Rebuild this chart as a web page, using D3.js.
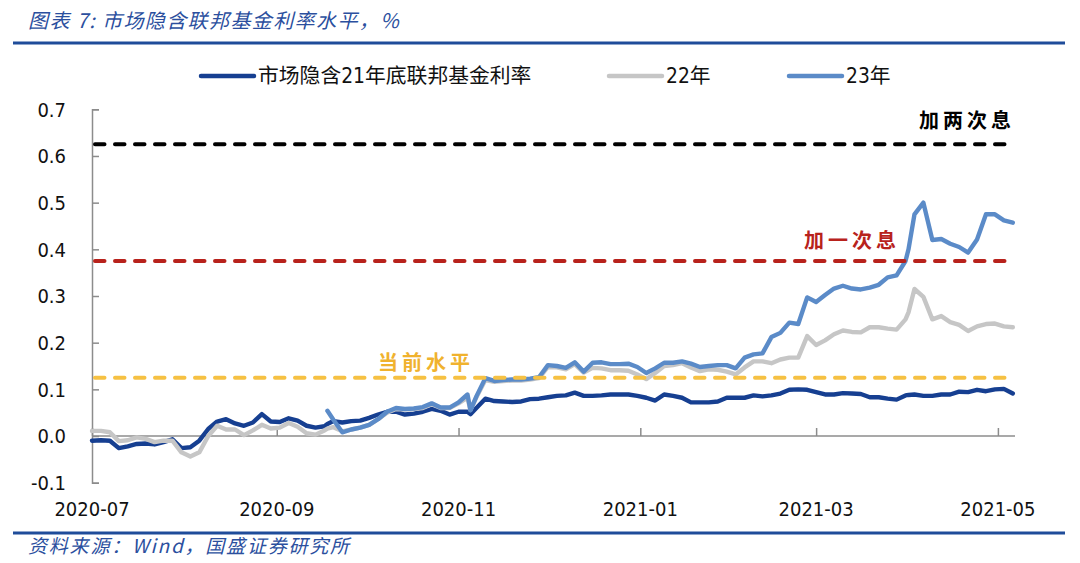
<!DOCTYPE html>
<html><head><meta charset="utf-8">
<script src="https://cdn.jsdelivr.net/npm/d3@7"></script>
<style>body{margin:0;background:#fff}svg{display:block}</style>
</head><body>
<svg id="c" width="1080" height="563"></svg>
<script>
const dates = ["2020-07-01","2020-07-04","2020-07-07","2020-07-10","2020-07-13","2020-07-16","2020-07-19","2020-07-22","2020-07-25","2020-07-28","2020-07-31",
"2020-08-03","2020-08-06","2020-08-09","2020-08-12","2020-08-15","2020-08-18","2020-08-21","2020-08-24","2020-08-27","2020-08-30",
"2020-09-02","2020-09-05","2020-09-08","2020-09-11","2020-09-14","2020-09-17","2020-09-18","2020-09-20","2020-09-23","2020-09-26","2020-09-29",
"2020-10-02","2020-10-05","2020-10-08","2020-10-11","2020-10-14","2020-10-17","2020-10-20","2020-10-23","2020-10-26","2020-10-29",
"2020-11-01","2020-11-04","2020-11-05","2020-11-07","2020-11-10","2020-11-13","2020-11-16","2020-11-19","2020-11-22","2020-11-25","2020-11-28",
"2020-12-01","2020-12-04","2020-12-07","2020-12-10","2020-12-13","2020-12-16","2020-12-19","2020-12-22","2020-12-25","2020-12-28","2020-12-31",
"2021-01-03","2021-01-06","2021-01-09","2021-01-12","2021-01-15","2021-01-18","2021-01-21","2021-01-24","2021-01-27","2021-01-30",
"2021-02-02","2021-02-05","2021-02-08","2021-02-11","2021-02-14","2021-02-17","2021-02-20","2021-02-23","2021-02-26",
"2021-03-01","2021-03-04","2021-03-07","2021-03-10","2021-03-13","2021-03-16","2021-03-19","2021-03-22","2021-03-25","2021-03-28","2021-03-31",
"2021-04-01","2021-04-03","2021-04-06","2021-04-09","2021-04-12","2021-04-15","2021-04-18","2021-04-21","2021-04-24","2021-04-27","2021-04-30",
"2021-05-03","2021-05-06"];

const rate21 = [-0.010,-0.009,-0.010,-0.026,-0.022,-0.017,-0.016,-0.018,-0.013,-0.007,-0.026,
-0.024,-0.010,0.015,0.031,0.036,0.027,0.022,0.029,0.047,0.031,
0.030,0.038,0.033,0.022,0.018,0.021,0.026,0.032,0.029,0.032,0.033,
0.039,0.046,0.052,0.052,0.046,0.048,0.052,0.058,0.054,0.046,
0.052,0.052,0.047,0.060,0.080,0.075,0.074,0.073,0.074,0.079,0.080,
0.083,0.086,0.087,0.093,0.086,0.086,0.087,0.089,0.089,0.089,0.086,
0.082,0.076,0.089,0.086,0.082,0.072,0.072,0.072,0.074,0.082,
0.082,0.082,0.087,0.085,0.087,0.091,0.099,0.100,0.099,
0.094,0.089,0.089,0.092,0.091,0.090,0.083,0.083,0.080,0.078,0.087,
0.088,0.089,0.086,0.086,0.089,0.089,0.095,0.094,0.099,0.096,0.100,
0.101,0.091];

const rate22 = [0.011,0.011,0.008,-0.011,-0.009,-0.003,-0.006,-0.013,-0.010,-0.010,-0.035,
-0.044,-0.035,0.000,0.022,0.014,0.014,0.002,0.012,0.024,0.016,
0.018,0.028,0.020,0.006,0.003,0.012,0.016,0.019,0.010,0.014,0.018,
0.024,0.036,0.050,0.058,0.057,0.058,0.060,0.068,0.060,0.060,
0.070,0.082,0.056,0.083,0.120,0.116,0.118,0.119,0.119,0.121,0.124,
0.148,0.147,0.143,0.154,0.136,0.146,0.145,0.141,0.141,0.140,0.132,
0.122,0.135,0.150,0.152,0.156,0.147,0.139,0.143,0.142,0.138,
0.132,0.147,0.160,0.160,0.156,0.164,0.168,0.168,0.214,
0.195,0.205,0.218,0.226,0.223,0.222,0.233,0.233,0.230,0.228,0.250,
0.265,0.315,0.298,0.250,0.257,0.244,0.238,0.225,0.235,0.240,0.241,
0.235,0.233];

const rate23 = [null,null,null,null,null,null,null,null,null,null,null,
null,null,null,null,null,null,null,null,null,null,
null,null,null,null,null,null,0.054,0.035,0.008,0.014,0.018,
0.024,0.036,0.052,0.060,0.058,0.059,0.062,0.070,0.061,0.061,
0.072,0.089,0.055,0.085,0.124,0.118,0.120,0.121,0.121,0.123,0.126,
0.152,0.150,0.146,0.158,0.138,0.157,0.158,0.154,0.154,0.155,0.148,
0.135,0.145,0.157,0.157,0.160,0.155,0.148,0.150,0.152,0.152,
0.145,0.168,0.175,0.177,0.212,0.221,0.243,0.240,0.297,
0.287,0.302,0.316,0.322,0.316,0.314,0.318,0.324,0.340,0.344,0.375,
0.400,0.475,0.500,0.420,0.422,0.412,0.405,0.393,0.421,0.475,0.475,
0.462,0.457];

const seriesNames = ["市场隐含21年底联邦基金利率","22年","23年"];
const yTicks = [-0.1,0.0,0.1,0.2,0.3,0.4,0.5,0.6,0.7];
const xTickDates = ["2020-07-01","2020-09-01","2020-11-01","2021-01-01","2021-03-01","2021-05-01"];
const refLevels = [0.625,0.375,0.125];
const refLabels = ["加两次息","加一次息","当前水平"];

const parse = d3.timeParse("%Y-%m-%d");
const svg = d3.select("#c");
const X0 = 92;
const x = d3.scaleTime().domain([parse("2020-07-01"), parse("2021-05-06")]).range([X0, 1012.8]);
const y = d3.scaleLinear().domain([-0.1, 0.7]).range([482.7, 109.3]);

const blueTxt = "#2b4f9e";
// title
svg.append("text").attr("x",28).attr("y",28)
  .attr("font-family","'Noto Sans CJK SC',sans-serif").attr("font-size",20)
  .attr("font-style","italic").attr("letter-spacing",1.4).attr("fill",blueTxt)
  .text("图表 7:  市场隐含联邦基金利率水平，%");
svg.append("rect").attr("x",13).attr("y",41.5).attr("width",1052).attr("height",3).attr("fill","#1f4c9a");
svg.append("rect").attr("x",13).attr("y",531.5).attr("width",1052).attr("height",3).attr("fill","#1f4c9a");
svg.append("text").attr("x",28).attr("y",553)
  .attr("font-family","'Noto Sans CJK SC',sans-serif").attr("font-size",19)
  .attr("font-style","italic").attr("letter-spacing",1.8).attr("fill",blueTxt)
  .text("资料来源：Wind，国盛证券研究所");

const numFont = "'DejaVu Sans Condensed','DejaVu Sans',sans-serif";
const fmtY = d => d3.format(".1f")(d).replace("\u2212","-");
// y axis
const yAxis = svg.append("g").attr("transform",`translate(${X0},0)`)
  .call(d3.axisRight(y).tickValues(yTicks).tickSize(7).tickFormat(""));
yAxis.select(".domain").attr("stroke","#8c8c8c").attr("stroke-width",1.5);
yAxis.selectAll(".tick line").attr("stroke","#8c8c8c").attr("stroke-width",1.5);
svg.append("g").selectAll("text").data(yTicks).join("text")
  .attr("x",66).attr("y",d=>y(d)).attr("dy","0.36em").attr("text-anchor","end")
  .attr("font-family",numFont).attr("font-size",20).attr("fill","#111")
  .text(fmtY);

// x axis at zero
const xt = xTickDates.map(parse);
const xAxis = svg.append("g").attr("transform",`translate(0,${y(0)})`)
  .call(d3.axisBottom(x).tickValues(xt).tickSizeInner(-8).tickSizeOuter(0).tickFormat(""));
xAxis.select(".domain").attr("stroke","#8c8c8c").attr("stroke-width",1.5).attr("d",`M${X0},0H1015`);
xAxis.selectAll(".tick line").attr("stroke","#8c8c8c").attr("stroke-width",1.5);
svg.append("g").selectAll("text").data(xt).join("text")
  .attr("x",d=>x(d)).attr("y",516).attr("text-anchor","middle")
  .attr("font-family",numFont).attr("font-size",20).attr("fill","#111")
  .text(d=>d3.timeFormat("%Y-%m")(d));

// series
const colors = ["#163f91","#c6c6c6","#5b8bc8"];
const allSeries = [rate21, rate22, rate23];
const line = d3.line().defined(d=>d.v!==null).x(d=>x(d.t)).y(d=>y(d.v));
allSeries.forEach((vals,i)=>{
  const data = dates.map((d,j)=>({t:parse(d), v:vals[j]}));
  svg.append("path").datum(data).attr("d",line).attr("fill","none")
    .attr("stroke",colors[i]).attr("stroke-width",4.4).attr("stroke-linejoin","round").attr("stroke-linecap","round");
});

// reference dashed lines
const refColors = ["#000000","#b8221c","#f6c143"];
const refTextColors = ["#000000","#b8221c","#f0b22e"];
refLevels.forEach((lv,i)=>{
  svg.append("line").attr("x1",X0+3).attr("x2",1011).attr("y1",y(lv)).attr("y2",y(lv))
    .attr("stroke",refColors[i]).attr("stroke-width",4).attr("stroke-dasharray","9.5,10.5").attr("stroke-linecap","round");
});
const annPos = [{x:1015,y:y(0.625)-16},{x:900,y:y(0.375)-13},{x:474,y:y(0.125)-8}];
refLabels.forEach((t,i)=>{
  svg.append("text").attr("x",annPos[i].x).attr("y",annPos[i].y).attr("text-anchor","end")
    .attr("font-family","'Noto Sans CJK SC',sans-serif").attr("font-weight",700).attr("font-size",20)
    .attr("letter-spacing",4).attr("fill",refTextColors[i]).text(t);
});

// legend
const legX = [201,609,789];
const legend = svg.append("g");
seriesNames.forEach((n,i)=>{
  legend.append("line").attr("x1",legX[i]).attr("x2",legX[i]+53).attr("y1",76).attr("y2",76)
    .attr("stroke",colors[i]).attr("stroke-width",4.5).attr("stroke-linecap","round");
  legend.append("text").attr("x",legX[i]+57).attr("y",83)
    .attr("font-family","'DejaVu Sans Condensed','Noto Sans CJK SC',sans-serif").attr("font-size",20.8).attr("fill","#111")
    .text(n);
});
</script>
</body></html>
